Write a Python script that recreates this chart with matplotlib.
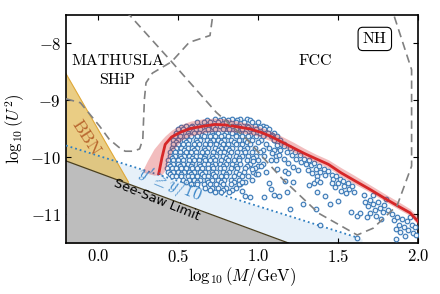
import matplotlib
matplotlib.use("Agg")
import matplotlib.pyplot as plt

plt.rcParams['font.family'] = 'serif'
plt.rcParams['font.serif'] = ['cmr10']
plt.rcParams['mathtext.fontset'] = 'cm'
plt.rcParams['axes.formatter.use_mathtext'] = True

# excluded / theory regions
seesaw_x = [-0.2, 1.19]
seesaw_y = [-10.06, -11.5]
dot_x = [-0.2, 1.65]
dot_y = [-9.79, -11.43]
bbn_x = [-0.2, 0.19]
bbn_y = [-8.53, -10.43]

# experiment sensitivity curves (dashed)
ship_x = [-0.2, -0.11, 0.01, 0.07, 0.13, 0.17, 0.22, 0.26, 0.28, 0.29, 0.30, 0.34, 0.46, 0.57, 0.70, 0.72]
ship_y = [-8.97, -9.04, -9.45, -9.68, -9.82, -9.89, -9.89, -9.85, -9.68, -8.98, -8.69, -8.52, -8.32, -7.98, -7.86, -7.45]
fcc_x = [0.17, 0.20, 0.46, 0.56, 0.74, 0.93, 1.15, 1.38, 1.62, 1.72, 1.87, 1.96, 1.96, 1.85, 1.83]
fcc_y = [-7.45, -7.51, -8.32, -8.64, -9.21, -9.68, -10.37, -10.98, -11.36, -11.24, -10.84, -10.15, -8.46, -7.51, -7.45]

# red best-fit line and band
red_x = [0.38, 0.40, 0.42, 0.46, 0.52, 0.58, 0.66, 0.73, 0.80, 0.87, 0.95, 1.02, 1.08, 1.15,
         1.22, 1.29, 1.36, 1.44, 1.52, 1.60, 1.70, 1.80, 1.88, 1.95, 2.0]
red_y = [-10.28, -10.0, -9.77, -9.64, -9.55, -9.49, -9.45, -9.42, -9.43, -9.46, -9.50, -9.56, -9.63, -9.73,
         -9.83, -9.93, -10.02, -10.12, -10.27, -10.40, -10.56, -10.73, -10.86, -10.97, -11.12]
band_x = [0.28, 0.31, 0.35, 0.40, 0.42, 0.46, 0.52, 0.58, 0.66, 0.73, 0.80, 0.87, 0.95, 1.02, 1.08, 1.15,
          1.22, 1.29, 1.36, 1.44, 1.52, 1.60, 1.70, 1.80, 1.88, 1.95, 2.0]
band_hi = [-10.22, -10.05, -9.85, -9.68, -9.62, -9.52, -9.42, -9.36, -9.32, -9.31, -9.32, -9.36, -9.41, -9.47, -9.54, -9.63,
           -9.73, -9.84, -9.94, -10.04, -10.18, -10.31, -10.48, -10.65, -10.78, -10.90, -11.04]
band_lo = [-10.26, -10.28, -10.31, -10.30, -10.22, -9.90, -9.70, -9.62, -9.57, -9.54, -9.54, -9.56, -9.59, -9.64, -9.71, -9.80,
           -9.90, -10.0, -10.08, -10.18, -10.33, -10.46, -10.61, -10.78, -10.91, -11.02, -11.18]

# scan points, dense part written row by row (y, xs)
dense_rows = [
    (-9.32, [0.73, 0.78, 0.84, 0.89, 0.93]),
    (-9.35, [0.68, 0.76, 0.81, 0.87, 0.95]),
    (-9.38, [0.62, 0.66, 0.70, 0.75, 0.80, 0.86, 0.91, 0.96, 1.00]),
    (-9.44, [0.55, 0.59, 0.63, 0.67, 0.71, 0.76, 0.81, 0.84, 0.88, 0.93, 0.98, 1.03]),
    (-9.47, [0.52, 0.58, 0.65, 0.72, 0.79, 0.87, 0.94, 1.01, 1.05]),
    (-9.50, [0.50, 0.53, 0.57, 0.61, 0.64, 0.69, 0.73, 0.78, 0.82, 0.86, 0.90, 0.95, 0.99, 1.04, 1.07]),
    (-9.57, [0.49, 0.52, 0.56, 0.60, 0.63, 0.67, 0.71, 0.75, 0.80, 0.84, 0.88, 0.92, 0.97, 1.01, 1.06, 1.10]),
    (-9.60, [0.50, 0.57, 0.65, 0.72, 0.79, 0.86, 0.95, 1.04, 1.09]),
    (-9.63, [0.48, 0.51, 0.55, 0.58, 0.62, 0.66, 0.70, 0.73, 0.77, 0.81, 0.86, 0.90, 0.94, 0.99, 1.03, 1.08, 1.12]),
    (-9.70, [0.47, 0.50, 0.54, 0.57, 0.61, 0.64, 0.68, 0.72, 0.75, 0.79, 0.83, 0.88, 0.92, 0.96, 1.02, 1.10, 1.14]),
    (-9.73, [0.49, 0.55, 0.62, 0.70, 0.77, 0.85, 0.93, 1.00, 1.12]),
    (-9.77, [0.47, 0.50, 0.53, 0.56, 0.60, 0.63, 0.67, 0.70, 0.74, 0.78, 0.81, 0.86, 0.90, 0.95, 1.05, 1.16]),
    (-9.84, [0.46, 0.49, 0.52, 0.56, 0.59, 0.62, 0.66, 0.69, 0.73, 0.77, 0.80, 0.84, 0.89, 0.93, 0.98, 1.07, 1.13]),
    (-9.87, [0.47, 0.54, 0.60, 0.67, 0.75, 0.82, 0.91, 1.03, 1.10]),
    (-9.91, [0.45, 0.48, 0.51, 0.55, 0.58, 0.61, 0.65, 0.68, 0.72, 0.76, 0.79, 0.83, 0.87, 0.92, 0.96, 1.01]),
    (-9.98, [0.45, 0.48, 0.51, 0.54, 0.57, 0.61, 0.64, 0.67, 0.71, 0.74, 0.78, 0.82, 0.86, 0.90, 0.94, 0.99, 1.04, 1.11]),
    (-10.01, [0.46, 0.52, 0.59, 0.66, 0.72, 0.80, 0.88, 0.97]),
    (-10.05, [0.44, 0.47, 0.50, 0.53, 0.57, 0.60, 0.63, 0.67, 0.70, 0.73, 0.77, 0.81, 0.85, 0.88, 0.93, 1.00, 1.08]),
    (-10.12, [0.44, 0.47, 0.50, 0.53, 0.56, 0.59, 0.63, 0.66, 0.69, 0.73, 0.76, 0.80, 0.84, 0.89, 0.95, 1.03]),
    (-10.15, [0.45, 0.51, 0.58, 0.64, 0.71, 0.78, 0.86, 0.93, 1.00]),
    (-10.19, [0.43, 0.46, 0.49, 0.52, 0.55, 0.59, 0.62, 0.65, 0.69, 0.72, 0.76, 0.79, 0.83, 0.87, 0.92, 0.98]),
    (-10.26, [0.44, 0.47, 0.50, 0.54, 0.57, 0.60, 0.64, 0.67, 0.71, 0.74, 0.78, 0.82, 0.86, 0.91, 0.97, 1.05]),
    (-10.29, [0.45, 0.52, 0.58, 0.65, 0.72, 0.80, 0.88, 0.99]),
    (-10.33, [0.46, 0.49, 0.52, 0.56, 0.59, 0.62, 0.66, 0.69, 0.73, 0.77, 0.80, 0.85, 0.90, 0.94]),
    (-10.40, [0.53, 0.57, 0.60, 0.64, 0.68, 0.71, 0.75, 0.79, 0.83, 0.88, 0.96]),
    (-10.43, [0.55, 0.62, 0.69, 0.77, 0.85, 0.92]),
    (-10.47, [0.58, 0.62, 0.66, 0.70, 0.74, 0.78, 0.83, 0.89]),
    (-10.54, [0.67, 0.71, 0.75, 0.80, 0.86]),
    (-10.57, [0.70, 0.78, 0.84]),
    (-10.60, [0.73, 0.77, 0.82]),
]

# scan points, sparse part
sparse_x = [1.10, 1.12, 1.14, 1.13, 1.16, 1.18, 1.20, 1.21, 1.23, 1.24, 1.26, 1.27, 1.29, 1.30, 1.16, 1.19,
            1.22, 1.25, 1.17, 1.19, 1.11, 1.12, 1.09,
            1.32, 1.33, 1.35, 1.36, 1.38, 1.39, 1.41, 1.42, 1.44, 1.34, 1.31, 1.37,
            1.46, 1.47, 1.49, 1.50, 1.51, 1.53, 1.54, 1.56, 1.57, 1.59, 1.48, 1.52, 1.55, 1.60, 1.45, 1.50,
            1.58, 1.62, 1.64, 1.46,
            1.67, 1.69, 1.70, 1.72, 1.73, 1.75, 1.76, 1.78, 1.70, 1.74, 1.79, 1.81, 1.68, 1.77, 1.80, 1.66, 1.72,
            1.84, 1.85, 1.87, 1.88, 1.90, 1.91, 1.93, 1.94, 1.96, 1.97, 1.98, 1.99, 1.86, 1.89, 1.92, 1.95,
            1.86, 1.62,
            0.88, 0.90, 0.90, 0.92, 0.95, 1.04, 1.07, 1.08, 1.10, 1.13, 1.17, 1.22, 1.18, 1.28, 1.20, 1.32,
            1.35, 1.37, 1.39, 1.37, 1.42, 1.36, 1.39, 0.97, 0.96, 1.02, 1.00]
sparse_y = [-9.70, -9.78, -9.86, -9.95, -9.80, -9.90, -9.84, -9.96, -9.90, -10.02, -9.95, -10.08, -10.02, -10.12, -10.02, -10.10,
            -10.16, -10.22, -10.23, -10.28, -10.05, -10.20, -9.92,
            -10.05, -10.14, -10.10, -10.20, -10.15, -10.26, -10.20, -10.30, -10.24, -10.27, -10.22, -10.33,
            -10.30, -10.38, -10.33, -10.45, -10.38, -10.42, -10.50, -10.45, -10.55, -10.50, -10.52, -10.58, -10.62, -10.60, -10.82, -10.77,
            -10.95, -11.03, -10.98, -10.45,
            -10.78, -10.85, -10.74, -10.82, -10.92, -10.78, -10.88, -10.96, -10.97, -11.03, -10.84, -10.92, -11.05, -11.08, -10.72, -10.66, -10.65,
            -11.00, -11.10, -11.05, -11.18, -11.08, -11.22, -11.12, -11.28, -11.18, -11.33, -11.22, -11.36, -11.25, -11.31, -11.38, -11.05,
            -11.43, -11.41,
            -10.46, -10.43, -10.58, -10.67, -10.69, -10.69, -10.44, -10.55, -10.65, -10.67, -10.41, -10.43, -10.60, -10.81, -10.91, -10.48,
            -10.44, -10.39, -10.43, -10.60, -10.67, -10.91, -11.19, -10.06, -10.20, -10.15, -10.29]

pts_x = [x for y, xs in dense_rows for x in xs] + sparse_x
pts_y = [y for y, xs in dense_rows for x in xs] + sparse_y

fig = plt.figure(figsize=(4.4, 2.94), dpi=100)
ax = fig.add_axes([0.15, 0.1735, 0.8, 0.7755])

ax.fill_between(dot_x, dot_y, -11.5, color='#e6f0f9', lw=0, zorder=1)
ax.fill_between(bbn_x, bbn_y, -11.5, color='goldenrod', alpha=0.55, lw=0, zorder=1.5)
ax.plot(bbn_x, bbn_y, color='#e0a93a', lw=0.8, zorder=1.6)
ax.fill_between(seesaw_x, seesaw_y, -11.5, color='#bdbdbd', lw=0, zorder=2)
ax.plot(seesaw_x, seesaw_y, color='#4a4020', lw=0.9, zorder=2.1)
ax.plot(dot_x, dot_y, color='#2f7fc1', ls=':', lw=1.3, zorder=3)

ax.scatter(pts_x, pts_y, s=11, facecolor='#eef4fa', edgecolor='#3f7cb8', lw=0.85, zorder=4)

ax.fill_between(band_x, band_lo, band_hi, color='#d62728', alpha=0.3, lw=0, zorder=5)
ax.plot(red_x, red_y, color='#d62728', lw=2, zorder=6)

ax.plot(ship_x, ship_y, color='grey', ls=(0, (5, 3)), lw=1.2, zorder=7)
ax.plot(fcc_x, fcc_y, color='grey', ls=(0, (5, 3)), lw=1.2, zorder=7)

ax.text(0.124, -8.31, 'MATHUSLA', ha='center', va='center', fontsize=11.5)
ax.text(0.117, -8.64, 'SHiP', ha='center', va='center', fontsize=11.5)
ax.text(1.355, -8.31, 'FCC', ha='center', va='center', fontsize=11.5)
ax.text(1.73, -7.92, 'NH', ha='center', va='center', fontsize=11.5,
        bbox=dict(boxstyle='round,pad=0.3', fc='white', ec='black', lw=0.8))
ax.text(-0.075, -9.65, 'BBN', ha='center', va='center', fontsize=13, color='#b8662e',
        rotation=-57, zorder=8)
ax.text(0.445, -10.50, r"$y' \geq y/10$", ha='center', va='center', fontsize=12, color='#3a86c8',
        rotation=-22, zorder=8)
ax.text(0.37, -10.74, 'See-Saw Limit', ha='center', va='center', fontsize=9.3, family='DejaVu Sans',
        rotation=-22, zorder=8)

ax.set_xlim(-0.2, 2.0)
ax.set_ylim(-11.5, -7.5)
ax.set_xticks([0.0, 0.5, 1.0, 1.5, 2.0])
ax.set_yticks([-11, -10, -9, -8])
ax.tick_params(direction='in', top=True, right=True, length=3.5, width=0.8, labelsize=12)
for s in ax.spines.values():
    s.set_linewidth(1.2)
ax.set_xlabel(r'$\log_{10}(M/\mathrm{GeV})$', fontsize=12, labelpad=0)
ax.set_ylabel(r'$\log_{10}(U^2)$', fontsize=12, labelpad=2)

fig.savefig('out.png', dpi=100)
